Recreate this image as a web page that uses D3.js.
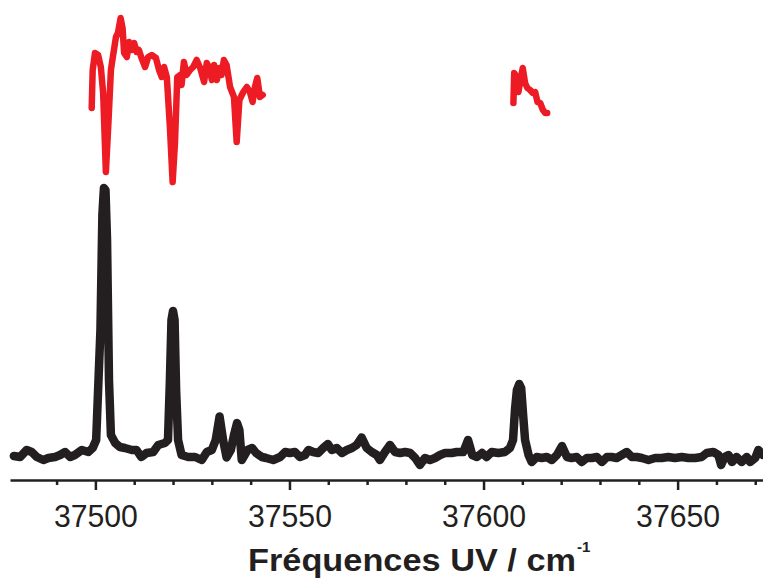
<!DOCTYPE html>
<html>
<head>
  <meta charset="UTF-8">
  <style>
    body { margin: 0; background: #fff; }
    svg { display: block; }
    .axis path, .axis line { stroke: #231f20; stroke-width: 2.5px; }
    .axis text { font-family: "Liberation Sans", Arial, sans-serif; fill: #231f20; }
    .spectre { fill: none; stroke-linejoin: round; stroke-linecap: round; }
  </style>
</head>
<body>
  <svg width="763" height="579"></svg>
  <script src="https://d3js.org/d3.v7.min.js"></script>
  <script>
    // spectre noir (fréquence en cm-1, intensité en u.a.)
    const noirX = [37479.0, 37480.6, 37482.3, 37483.6, 37484.9, 37486.6, 37487.9, 37489.6, 37490.9, 37492.2,
      37493.5, 37494.7, 37496.5, 37498.2, 37499.3, 37500.2, 37501.3, 37501.8, 37502.2, 37502.6,
      37503.0, 37503.5, 37504.0, 37505.1, 37506.3, 37507.6, 37509.4, 37510.6, 37511.8, 37513.2,
      37514.9, 37516.2, 37517.9, 37518.7, 37519.2, 37519.6, 37520.0, 37520.4, 37520.8, 37521.3,
      37522.2, 37523.9, 37525.7, 37527.4, 37528.7, 37530.0, 37531.0, 37532.0, 37532.9, 37533.8,
      37534.9, 37535.7, 37536.5, 37537.1, 37537.7, 37539.2, 37540.4, 37541.4, 37542.9, 37544.0,
      37545.8, 37547.6, 37548.9, 37550.1, 37551.4, 37552.7, 37554.0, 37554.9, 37556.1, 37557.4,
      37558.7, 37559.9, 37560.9, 37562.2, 37563.5, 37564.8, 37566.1, 37567.3, 37568.6, 37569.9,
      37571.2, 37572.5, 37573.3, 37574.6, 37575.9, 37577.2, 37578.5, 37579.8, 37581.1, 37582.4,
      37583.6, 37584.9, 37586.2, 37587.5, 37588.8, 37590.1, 37591.8, 37593.1, 37594.8, 37596.0,
      37597.1, 37598.3, 37599.6, 37600.8, 37602.1, 37603.8, 37605.5, 37606.8, 37607.6, 37608.1,
      37608.6, 37609.2, 37609.7, 37610.2, 37610.7, 37611.6, 37612.4, 37613.7, 37615.0, 37616.3,
      37617.6, 37618.9, 37620.2, 37621.5, 37622.7, 37624.0, 37625.3, 37626.6, 37627.9, 37629.2,
      37630.5, 37631.8, 37633.0, 37634.3, 37635.6, 37636.9, 37638.2, 37639.5, 37640.8, 37642.5,
      37644.2, 37645.9, 37647.6, 37649.3, 37651.1, 37652.8, 37654.5, 37656.2, 37657.5, 37659.2,
      37660.5, 37661.2, 37662.1, 37663.1, 37664.0, 37665.2, 37666.5, 37667.8, 37668.7, 37670.0,
      37670.8, 37672.0];
    const noirY = [1.4, 1.3, 2.0, 1.8, 1.3, 1.0, 1.2, 1.3, 1.5, 1.8,
      1.3, 1.5, 2.0, 1.8, 2.2, 3.0, 14.0, 25.5, 28.2, 28.0,
      23.0, 9.0, 3.5, 2.7, 2.3, 2.2, 2.0, 2.0, 1.3, 1.7,
      1.8, 2.5, 2.7, 3.0, 9.0, 15.0, 15.9, 15.0, 8.0, 3.0,
      1.5, 1.3, 1.3, 1.0, 1.8, 2.0, 3.0, 5.35, 3.0, 1.25,
      2.0, 3.5, 4.7, 4.0, 1.0, 2.0, 2.2, 1.7, 1.3, 1.2,
      1.0, 1.3, 1.8, 1.7, 1.8, 1.3, 1.5, 2.0, 1.8, 1.7,
      2.2, 2.6, 2.0, 2.2, 1.7, 2.0, 2.2, 2.5, 3.25, 2.2,
      1.8, 1.5, 1.0, 1.8, 2.5, 1.8, 1.7, 1.8, 1.7, 1.2,
      0.5, 1.2, 1.0, 1.2, 1.5, 1.7, 1.7, 1.8, 1.8, 3.0,
      1.5, 1.3, 1.7, 1.3, 1.8, 1.7, 1.8, 2.2, 3.0, 6.0,
      8.0, 8.6, 8.2, 5.5, 3.0, 1.5, 0.8, 1.3, 1.2, 1.3,
      1.0, 1.5, 2.4, 1.3, 1.2, 1.3, 0.8, 1.2, 1.2, 1.3,
      0.8, 1.3, 1.3, 1.2, 1.5, 1.8, 1.3, 1.3, 1.2, 1.0,
      1.2, 1.2, 1.3, 1.2, 1.3, 1.2, 1.2, 1.3, 1.7, 1.8,
      1.5, 0.5, 1.3, 1.5, 0.8, 1.3, 0.8, 1.3, 0.8, 1.2,
      2.0, 1.5];

    // spectre rouge, deux morceaux
    const rouge1X = [37499.05, 37499.3, 37499.9, 37500.7, 37501.4, 37502.0, 37502.7, 37503.3, 37504.0, 37504.5,
      37505.3, 37505.8, 37506.5, 37507.0, 37507.4, 37508.1, 37508.7, 37509.4, 37510.0, 37510.6,
      37511.2, 37511.9, 37512.8, 37513.6, 37514.5, 37515.6, 37516.4, 37517.1, 37517.7, 37518.4,
      37519.2, 37519.9, 37520.5, 37521.1, 37521.8, 37522.2, 37522.8, 37523.5, 37524.4, 37525.2,
      37526.1, 37527.0, 37528.0, 37528.7, 37529.4, 37530.0, 37530.6, 37531.3, 37531.9, 37532.5,
      37533.1, 37533.8, 37534.7, 37535.7, 37536.4, 37537.1, 37538.1, 37539.0, 37539.8, 37540.5,
      37541.1, 37541.7, 37542.4, 37543.1];
    const rouge1Y = [36.2, 40.0, 41.7, 41.5, 40.3, 37.7, 29.8, 34.3, 40.0, 41.3,
      43.3, 43.7, 45.2, 44.2, 41.7, 41.3, 42.8, 42.0, 42.7, 41.8,
      42.0, 41.2, 40.3, 41.3, 41.5, 41.2, 40.0, 39.3, 40.3, 39.3,
      34.3, 28.8, 32.7, 39.3, 39.5, 38.5, 40.8, 39.5, 40.0, 40.3,
      41.0, 40.2, 38.8, 40.7, 40.2, 39.0, 40.5, 39.0, 40.2, 39.5,
      41.0, 40.5, 38.3, 37.3, 32.8, 37.0, 37.8, 38.3, 37.8, 36.8,
      38.3, 39.2, 37.3, 37.5];
    const rouge2X = [37607.7, 37607.9, 37608.6, 37609.0, 37609.6, 37610.1, 37610.7, 37611.3, 37612.0, 37612.7,
      37613.3, 37613.9, 37614.6, 37615.3, 37615.9, 37616.4];
    const rouge2Y = [36.7, 39.7, 39.3, 37.8, 39.2, 40.2, 38.7, 38.2, 38.0, 37.7,
      37.8, 36.8, 36.7, 36.0, 35.7, 35.7];

    const ticksMajeurs = [37500, 37550, 37600, 37650];
    const ticksMineurs = d3.range(37490, 37680, 10).filter(v => !ticksMajeurs.includes(v));

    const svg = d3.select('svg');
    const x = d3.scaleLinear().domain([37478, 37672]).range([10, 763]);
    const y = d3.scaleLinear().domain([0, 46]).range([470, 10]);

    const ligne = d3.line().x(d => x(d[0])).y(d => y(d[1]));

    // axe : ticks mineurs puis majeurs
    svg.append('g')
      .attr('class', 'axis')
      .attr('transform', 'translate(0,480)')
      .call(d3.axisBottom(x).tickValues(ticksMineurs).tickSize(5).tickSizeOuter(0).tickFormat(''));

    const axe = svg.append('g')
      .attr('class', 'axis')
      .attr('transform', 'translate(0,480)')
      .call(d3.axisBottom(x).tickValues(ticksMajeurs).tickSize(10).tickSizeOuter(0).tickFormat(d3.format('d')));
    axe.select('.domain').remove();
    axe.selectAll('text')
      .attr('y', 47).attr('dy', 0)
      .style('font-size', '31px')
      .attr('textLength', 84)
      .attr('lengthAdjust', 'spacingAndGlyphs');

    // titre de l'axe
    const titre = svg.append('text')
      .attr('x', 248).attr('y', 571)
      .style('font-family', '"Liberation Sans", Arial, sans-serif')
      .style('font-weight', 'bold')
      .style('font-size', '31px')
      .style('fill', '#231f20');
    titre.append('tspan')
      .attr('textLength', 328)
      .attr('lengthAdjust', 'spacingAndGlyphs')
      .text('Fréquences UV / cm');
    svg.append('text')
      .attr('x', 577).attr('y', 552)
      .style('font-family', '"Liberation Sans", Arial, sans-serif')
      .style('font-weight', 'bold')
      .style('font-size', '15px')
      .style('fill', '#231f20')
      .text('-1');

    // spectres
    svg.append('path')
      .datum(d3.zip(noirX, noirY))
      .attr('class', 'spectre')
      .attr('stroke', '#231f20')
      .attr('stroke-width', 8.5)
      .attr('d', ligne);

    [d3.zip(rouge1X, rouge1Y), d3.zip(rouge2X, rouge2Y)].forEach(seg => {
      svg.append('path')
        .datum(seg)
        .attr('class', 'spectre')
        .attr('stroke', '#ed1c24')
        .attr('stroke-width', 6.5)
        .attr('d', ligne);
    });
  </script>
</body>
</html>
